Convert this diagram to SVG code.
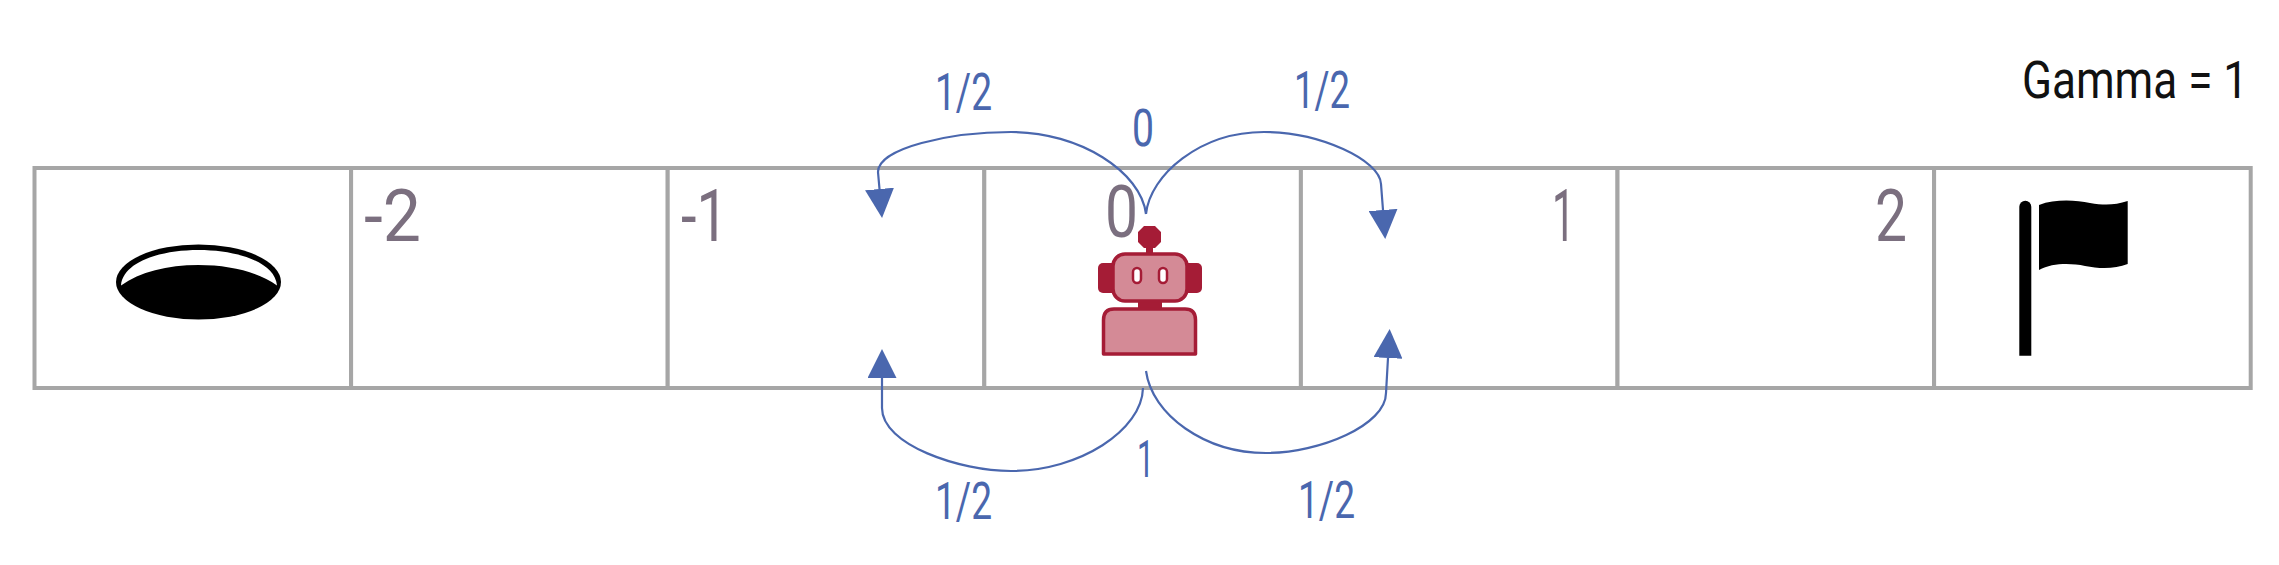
<svg xmlns="http://www.w3.org/2000/svg" width="2279" height="565" viewBox="0 0 2279 565">
<style>
.cell{fill:#fff;stroke:#A6A6A6;stroke-width:4}
.num{font-family:"Roboto","Liberation Sans",sans-serif;font-weight:400;font-size:72px;fill:#7B6F7F}
.lbl{font-family:"Roboto","Liberation Sans",sans-serif;font-weight:400;font-size:51px;fill:#4A67AE}
.gam{font-family:"Roboto","Liberation Sans",sans-serif;font-weight:400;font-size:51px;fill:#111}
.arc{fill:none;stroke:#4A67AE;stroke-width:2.2;marker-end:url(#head)}
.dk{fill:#A51C36}
.pk{fill:#D48A96;stroke:#A51C36;stroke-width:3.5}
</style>
<defs>
<marker id="head" viewBox="0 0 29 29" refX="0" refY="14.5" markerWidth="29" markerHeight="29" markerUnits="userSpaceOnUse" orient="auto"><path d="M0,0 L29,14.5 L0,29 Z" fill="#4A67AE"/></marker>
</defs>
<rect width="2279" height="565" fill="#fff"/>
<g id="cell-hole">
<rect class="cell" x="34.5" y="168" width="316.6" height="220"/>
<ellipse cx="198.5" cy="282" rx="82.5" ry="37.5" fill="#000"/>
<path d="M121,285.5 C123,262 160,250 198.5,250 C237,250 275,262 277,285.5 C258,272 230,265 198.5,265 C167,265 140,272 121,285.5 Z" fill="#fff"/>
</g>
<g id="cell-minus2">
<rect class="cell" x="351.1" y="168" width="316.6" height="220"/>
<text class="num" x="364" y="241" textLength="57" lengthAdjust="spacingAndGlyphs">-2</text>
</g>
<g id="cell-minus1">
<rect class="cell" x="667.7" y="168" width="316.6" height="220"/>
<text class="num" x="681" y="241" textLength="47" lengthAdjust="spacingAndGlyphs">-1</text>
</g>
<g id="cell-0">
<rect class="cell" x="984.3" y="168" width="316.6" height="220"/>
<text class="num" x="1105" y="237" textLength="33" lengthAdjust="spacingAndGlyphs">0</text>
<g id="robot">
<path class="dk" d="M1144,226 L1155,226 L1161,232 L1161,242 L1155,248 L1153,248 L1153,254 L1146,254 L1146,248 L1144,248 L1138,242 L1138,232 Z"/>
<rect class="dk" x="1098" y="263" width="22" height="30" rx="5"/>
<rect class="dk" x="1180" y="263" width="22" height="30" rx="5"/>
<rect class="dk" x="1138" y="299" width="24" height="10"/>
<rect class="pk" x="1113" y="254" width="74" height="47" rx="12"/>
<path class="pk" d="M1103.5,354 L1103.5,320 Q1103.5,309 1114,309 L1185,309 Q1195.5,309 1195.5,320 L1195.5,354 Z" stroke-linejoin="round"/>
<rect x="1133" y="268" width="8" height="15" rx="4" fill="#fff" stroke="#A51C36" stroke-width="2.5"/>
<rect x="1159" y="268" width="8" height="15" rx="4" fill="#fff" stroke="#A51C36" stroke-width="2.5"/>
</g>
</g>
<g id="cell-1">
<rect class="cell" x="1300.9" y="168" width="316.6" height="220"/>
<text class="num" x="1552" y="241" textLength="23" lengthAdjust="spacingAndGlyphs">1</text>
</g>
<g id="cell-2">
<rect class="cell" x="1617.5" y="168" width="316.6" height="220"/>
<text class="num" x="1875" y="241" textLength="32" lengthAdjust="spacingAndGlyphs">2</text>
</g>
<g id="cell-flag">
<rect class="cell" x="1934.1" y="168" width="316.6" height="220"/>
<path d="M2019.3,355.7 L2019.3,206.7 A6,6 0 0 1 2031.3,206.7 L2031.3,355.7 Z" fill="#000"/>
<path d="M2039,205 C2055,199 2075,200 2090,203 C2105,205.500 2115,205 2127.700,201 L2127.700,264 C2115,269 2100,269 2085,266 C2070,263 2052,263 2039,270 Z" fill="#000"/>
</g>
<g id="connectors">
<path class="arc" d="M1146,214 C1141,172 1080,132 1011,132 C950,132 878,148 878,172 L879.5,189"/>
<path class="arc" d="M1146,214 C1150,175 1200,132 1264,132 C1320,132 1380,160 1381,184 L1383,210"/>
<path class="arc" d="M1143,388 C1142,430 1080,471 1011,471 C960,471 882,445 882,408 L882,378"/>
<path class="arc" d="M1146,371 C1152,415 1205,453 1266,453 C1320,453 1386,425 1386,393 L1388,358"/>
</g>
<g id="labels">
<text class="lbl" x="935" y="110" textLength="57" lengthAdjust="spacingAndGlyphs">1/2</text>
<text class="lbl" x="1294" y="108" textLength="56" lengthAdjust="spacingAndGlyphs">1/2</text>
<text class="lbl" x="1132" y="146" textLength="22" lengthAdjust="spacingAndGlyphs">0</text>
<text class="lbl" x="1137" y="477" textLength="17" lengthAdjust="spacingAndGlyphs">1</text>
<text class="lbl" x="935" y="519" textLength="57" lengthAdjust="spacingAndGlyphs">1/2</text>
<text class="lbl" x="1298" y="518" textLength="57" lengthAdjust="spacingAndGlyphs">1/2</text>
<text class="gam" x="2022" y="98" textLength="226" lengthAdjust="spacingAndGlyphs">Gamma = 1</text>
</g>
</svg>
